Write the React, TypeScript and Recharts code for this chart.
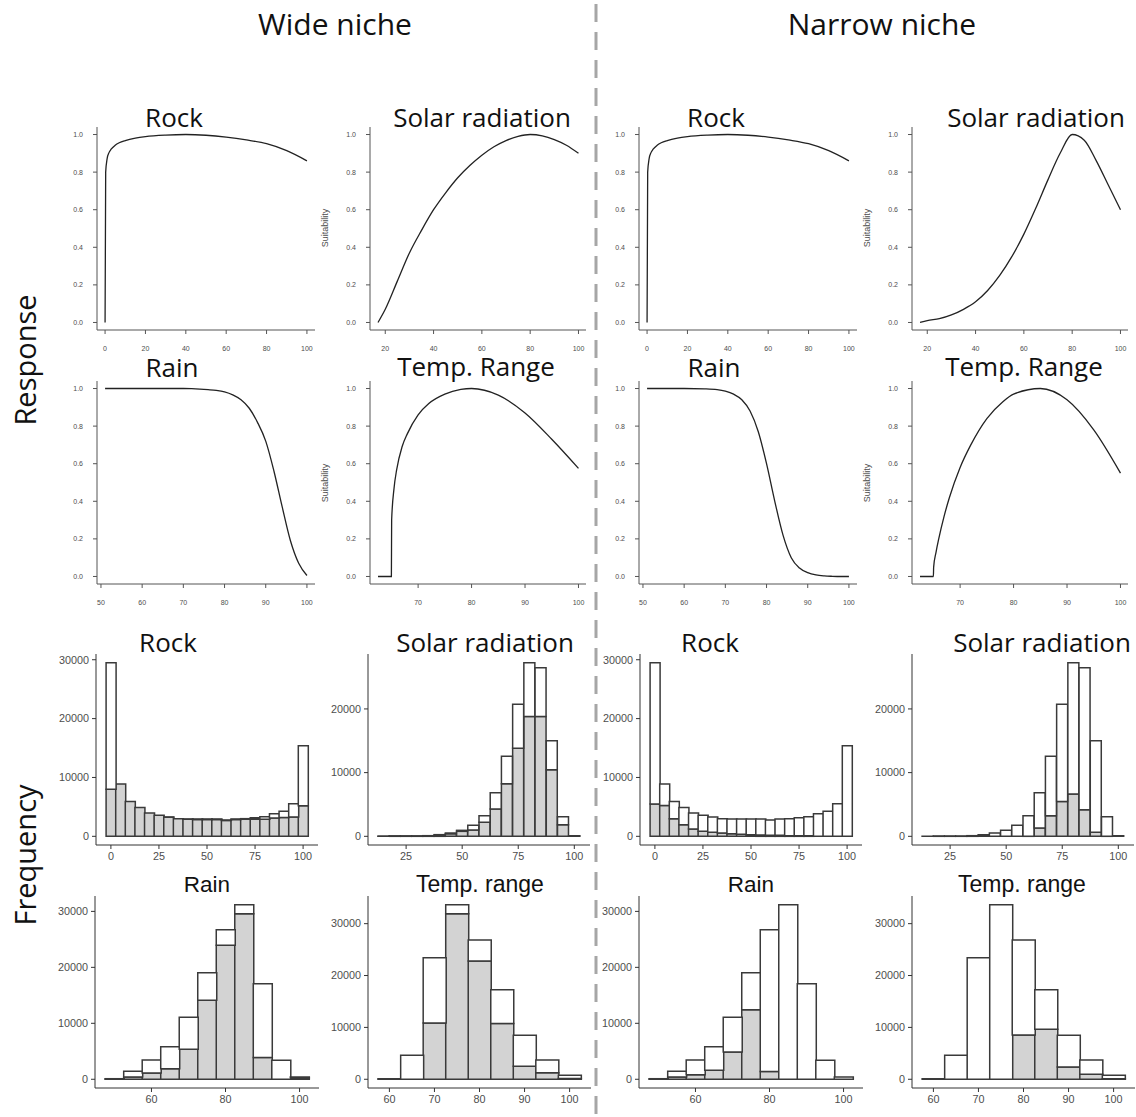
import React from "react";
import { LineChart, Line, XAxis, YAxis, BarChart, Bar } from "recharts";

// ---- response curves (suitability) ----
const rockX = [0, 0.3, 1, 2, 3, 5, 7, 10, 15, 20, 30, 40, 50, 60, 70, 80, 90, 100];
const rockWideY = [0, 0.8, 0.87, 0.905, 0.922, 0.943, 0.956, 0.968, 0.981, 0.989, 0.997, 1.0, 0.996, 0.986, 0.971, 0.951, 0.914, 0.86];
const rockNarrowY = [0, 0.8, 0.87, 0.905, 0.922, 0.943, 0.956, 0.968, 0.981, 0.989, 0.997, 1.0, 0.996, 0.986, 0.971, 0.951, 0.914, 0.86];

const solarX = [17, 20, 25, 30, 35, 40, 45, 50, 55, 60, 65, 70, 75, 80, 85, 90, 95, 100];
const solarWideY = [0, 0.07, 0.22, 0.37, 0.49, 0.6, 0.69, 0.77, 0.835, 0.89, 0.935, 0.968, 0.99, 1.0, 0.993, 0.973, 0.943, 0.9];
const solarNarrowY = [0, 0.01, 0.02, 0.04, 0.07, 0.11, 0.17, 0.25, 0.35, 0.47, 0.61, 0.76, 0.9, 1.0, 0.97, 0.86, 0.73, 0.6];

const rainX = [51, 55, 60, 65, 68, 70, 72, 74, 76, 78, 80, 82, 84, 86, 88, 90, 92, 94, 96, 98, 100];
const rainWideY = [1, 1, 1, 1, 1, 1, 0.999, 0.997, 0.994, 0.99, 0.982, 0.966, 0.94, 0.895, 0.82, 0.72, 0.56, 0.37, 0.19, 0.07, 0.005];
const rainNarrowY = [1, 1, 1, 0.998, 0.994, 0.986, 0.97, 0.94, 0.88, 0.77, 0.6, 0.4, 0.22, 0.1, 0.045, 0.02, 0.008, 0.003, 0.001, 0, 0];

const tempX = [62.5, 65, 65.05, 65.5, 66, 67, 68, 70, 72, 75, 78, 80, 85, 90, 95, 100];
const tempWideY = [0, 0, 0.3, 0.47, 0.57, 0.69, 0.76, 0.86, 0.92, 0.97, 0.995, 1, 0.965, 0.87, 0.73, 0.575];
const tempNarrowY = [0, 0, 0.05, 0.13, 0.2, 0.32, 0.42, 0.58, 0.7, 0.84, 0.93, 0.97, 1.0, 0.94, 0.78, 0.55];

const suitTicks = [0, 0.2, 0.4, 0.6, 0.8, 1];

// ---- histograms (white = all cells, grey = occupied) ----
const rockBins = [0, 5, 10, 15, 20, 25, 30, 35, 40, 45, 50, 55, 60, 65, 70, 75, 80, 85, 90, 95, 100];
const rockTotal = [29500, 8900, 5900, 4900, 3950, 3560, 3280, 3000, 2940, 2940, 2940, 2940, 2770, 2940, 3000, 3160, 3330, 3840, 4240, 5540, 15370];
const rockWide = [8000, 8900, 5900, 4900, 3950, 3560, 3250, 3000, 2900, 2850, 2850, 2850, 2700, 2850, 2900, 2900, 2900, 3100, 3200, 3300, 5200];
const rockNarrow = [5480, 5250, 3000, 1980, 1240, 850, 680, 560, 450, 340, 280, 230, 170, 170, 110, 100, 80, 0, 0, 0, 0];

const solarBins = [15, 20, 25, 30, 35, 40, 45, 50, 55, 60, 65, 70, 75, 80, 85, 90, 95, 100];
const solarTotal = [20, 60, 60, 60, 100, 260, 520, 940, 1720, 3240, 6840, 12580, 20730, 27260, 26480, 14990, 3080, 100];
const solarWide = [10, 50, 50, 50, 80, 200, 400, 780, 1000, 2190, 4280, 8250, 13840, 18800, 18800, 10440, 1830, 50];
const solarNarrow = [0, 0, 0, 0, 0, 0, 0, 0, 0, 30, 1300, 3240, 5480, 6630, 4180, 630, 20, 0];

const rainBins = [50, 55, 60, 65, 70, 75, 80, 85, 90, 95, 100];
const rainTotal = [100, 1430, 3450, 5830, 11070, 19050, 26730, 31190, 17080, 3390, 420];
const rainWide = [50, 420, 1130, 1900, 5360, 14100, 23930, 29580, 3870, 20, 250];
const rainNarrow = [50, 420, 830, 1600, 4880, 12440, 1370, 0, 0, 0, 0];

const tempBins = [60, 65, 70, 75, 80, 85, 90, 95, 100];
const tempTotal = [100, 4620, 23440, 33650, 26850, 17280, 8480, 3730, 770];
const tempWide = [50, 0, 10850, 31920, 22800, 10730, 2500, 1280, 150];
const tempNarrow = [0, 0, 0, 0, 8540, 9630, 2380, 960, 100];

const countTicks = [0, 10000, 20000, 30000];

const AX = "#555";
const TXT = "#4d4d4d";

type RespProps = {
  xs: number[];
  ys: number[];
  ticks: number[];
  left: number;
  top: number;
  w: number;
  h: number;
};

const RespPanel = ({ xs, ys, ticks, left, top, w, h }: RespProps) => {
  const data = xs.map((x, i) => ({ x, y: ys[i] }));
  const r = xs[xs.length - 1] - xs[0];
  const dom: [number, number] = [xs[0] - r * 0.04, xs[xs.length - 1] + r * 0.04];
  const YW = 40;
  const XH = 30;
  return (
    <div style={{ position: "absolute", left: left - YW, top }}>
      <LineChart width={YW + w} height={h + XH} data={data} margin={{ top: 0, right: 0, left: 0, bottom: 0 }}>
        <XAxis
          type="number"
          dataKey="x"
          domain={dom}
          allowDataOverflow
          ticks={ticks}
          interval={0}
          height={XH}
          tickSize={4}
          tickMargin={12}
          stroke={AX}
          tick={{ fontSize: 7, fill: TXT, fontFamily: "Liberation Sans" }}
        />
        <YAxis
          type="number"
          domain={[-0.04, 1.04]}
          allowDataOverflow
          ticks={suitTicks}
          interval={0}
          width={YW}
          tickSize={4}
          tickMargin={10}
          stroke={AX}
          tickFormatter={(v: number) => v.toFixed(1)}
          tick={{ fontSize: 7, fill: TXT, fontFamily: "Liberation Sans" }}
        />
        <Line type="monotone" dataKey="y" stroke="#222" strokeWidth={1.3} dot={false} isAnimationActive={false} />
      </LineChart>
    </div>
  );
};

type HistProps = {
  bins: number[];
  total: number[];
  sub: number[];
  ticks: number[];
  left: number;
  top: number;
  w: number;
  h: number;
};

const HistPanel = ({ bins, total, sub, ticks, left, top, w, h }: HistProps) => {
  const data = bins.map((x, i) => ({ x, sub: sub[i], rest: total[i] - sub[i] }));
  const step = bins[1] - bins[0];
  const lo = bins[0] - step / 2;
  const hi = bins[bins.length - 1] + step / 2;
  const ex = (hi - lo) * 0.05;
  const max = Math.max(...total);
  const yt = countTicks.filter((t) => t <= max * 1.05);
  const YW = 50;
  const XH = 30;
  return (
    <div style={{ position: "absolute", left: left - YW, top }}>
      <BarChart
        width={YW + w}
        height={h + XH}
        data={data}
        margin={{ top: 0, right: 0, left: 0, bottom: 0 }}
        barCategoryGap={0}
        barGap={0}
      >
        <XAxis
          xAxisId="n"
          dataKey="x"
          type="number"
          domain={[lo - ex, hi + ex]}
          allowDataOverflow
          ticks={ticks}
          interval={0}
          height={XH}
          tickSize={4}
          tickMargin={3}
          stroke="#333"
          tick={{ fontSize: 10.8, fill: TXT, fontFamily: "Liberation Sans" }}
        />
        <XAxis
          xAxisId="c"
          dataKey="x"
          type="category"
          hide
          orientation="top"
          height={0}
          padding={{ left: w / 22, right: w / 22 }}
        />
        <YAxis
          type="number"
          domain={[-0.05 * max, 1.05 * max]}
          allowDataOverflow
          ticks={yt}
          interval={0}
          width={YW}
          tickSize={4}
          tickMargin={3}
          stroke="#333"
          tick={{ fontSize: 10.8, fill: TXT, fontFamily: "Liberation Sans" }}
        />
        <Bar xAxisId="c" dataKey="sub" stackId="s" fill="#d3d3d3" stroke="#3a3a3a" strokeWidth={1.5} isAnimationActive={false} />
        <Bar xAxisId="c" dataKey="rest" stackId="s" fill="#ffffff" stroke="#3a3a3a" strokeWidth={1.5} isAnimationActive={false} />
      </BarChart>
    </div>
  );
};

const calibri = "'Open Sans', 'Noto Sans', sans-serif";
const arial = "'Liberation Sans', Arial, sans-serif";

const RDX = 542;
const HDX = 544;

export default function App() {
  const t = (x: number, y: number, s: string, size = 26, fam = calibri) => (
    <text x={x} y={y} textAnchor="middle" fontSize={size} fontFamily={fam} fill="#111">
      {s}
    </text>
  );
  const suit = (x: number, y: number) => (
    <text x={x} y={y} textAnchor="middle" fontSize={9} fontFamily={arial} fill={TXT} transform={`rotate(-90 ${x} ${y})`}>
      Suitability
    </text>
  );
  return (
    <div style={{ position: "absolute", left: 0, top: 0, width: 1136, height: 1117, background: "#fff", overflow: "hidden" }}>
      {/* response curves */}
      <RespPanel xs={rockX} ys={rockWideY} ticks={[0, 20, 40, 60, 80, 100]} left={97} top={127} w={218} h={203} />
      <RespPanel xs={solarX} ys={solarWideY} ticks={[20, 40, 60, 80, 100]} left={369.5} top={127} w={216.5} h={203} />
      <RespPanel xs={rockX} ys={rockNarrowY} ticks={[0, 20, 40, 60, 80, 100]} left={97 + RDX} top={127} w={218} h={203} />
      <RespPanel xs={solarX} ys={solarNarrowY} ticks={[20, 40, 60, 80, 100]} left={369.5 + RDX} top={127} w={216.5} h={203} />
      <RespPanel xs={rainX} ys={rainWideY} ticks={[50, 60, 70, 80, 90, 100]} left={97} top={381} w={218} h={203} />
      <RespPanel xs={tempX} ys={tempWideY} ticks={[70, 80, 90, 100]} left={369.5} top={381} w={216.5} h={203} />
      <RespPanel xs={rainX} ys={rainNarrowY} ticks={[50, 60, 70, 80, 90, 100]} left={97 + RDX} top={381} w={218} h={203} />
      <RespPanel xs={tempX} ys={tempNarrowY} ticks={[70, 80, 90, 100]} left={369.5 + RDX} top={381} w={216.5} h={203} />

      {/* histograms */}
      <HistPanel bins={rockBins} total={rockTotal} sub={rockWide} ticks={[0, 25, 50, 75, 100]} left={95.5} top={654} w={222} h={191} />
      <HistPanel bins={solarBins} total={solarTotal} sub={solarWide} ticks={[25, 50, 75, 100]} left={367.7} top={654} w={222} h={191} />
      <HistPanel bins={rockBins} total={rockTotal} sub={rockNarrow} ticks={[0, 25, 50, 75, 100]} left={95.5 + HDX} top={654} w={222} h={191} />
      <HistPanel bins={solarBins} total={solarTotal} sub={solarNarrow} ticks={[25, 50, 75, 100]} left={367.7 + HDX} top={654} w={222} h={191} />
      <HistPanel bins={rainBins} total={rainTotal} sub={rainWide} ticks={[60, 80, 100]} left={95} top={896} w={224} h={192} />
      <HistPanel bins={tempBins} total={tempTotal} sub={tempWide} ticks={[60, 70, 80, 90, 100]} left={367.7} top={896} w={223} h={192} />
      <HistPanel bins={rainBins} total={rainTotal} sub={rainNarrow} ticks={[60, 80, 100]} left={95 + HDX} top={896} w={224} h={192} />
      <HistPanel bins={tempBins} total={tempTotal} sub={tempNarrow} ticks={[60, 70, 80, 90, 100]} left={367.7 + HDX} top={896} w={223} h={192} />

      <svg width={1136} height={1117} style={{ position: "absolute", left: 0, top: 0, pointerEvents: "none" }}>
        <line x1={596} y1={4} x2={596} y2={1117} stroke="#a6a6a6" strokeWidth={3} strokeDasharray="18 10" />
        {t(335, 35, "Wide niche", 30)}
        {t(882, 35, "Narrow niche", 30)}
        <text x={36} y={360} textAnchor="middle" fontSize={29} fontFamily={calibri} fill="#111" transform="rotate(-90 36 360)">
          Response
        </text>
        <text x={36} y={855} textAnchor="middle" fontSize={29} fontFamily={calibri} fill="#111" transform="rotate(-90 36 855)">
          Frequency
        </text>

        {t(174, 127, "Rock")}
        {t(482, 127, "Solar radiation")}
        {t(174 + RDX, 127, "Rock")}
        {t(482 + RDX + 12, 127, "Solar radiation")}
        {t(172, 377, "Rain")}
        {t(476, 376, "Temp. Range")}
        {t(172 + RDX, 377, "Rain")}
        {t(476 + RDX + 6, 376, "Temp. Range")}

        {t(168, 652, "Rock")}
        {t(485, 652, "Solar radiation")}
        {t(710, 652, "Rock")}
        {t(1042, 652, "Solar radiation")}
        {t(207, 892, "Rain", 22.5, arial)}
        {t(480, 892, "Temp. range", 23, arial)}
        {t(751, 892, "Rain", 22.5, arial)}
        {t(1022, 892, "Temp. range", 23, arial)}

        {suit(328, 228)}
        {suit(328, 483)}
        {suit(328 + RDX, 228)}
        {suit(328 + RDX, 483)}
      </svg>
    </div>
  );
}
